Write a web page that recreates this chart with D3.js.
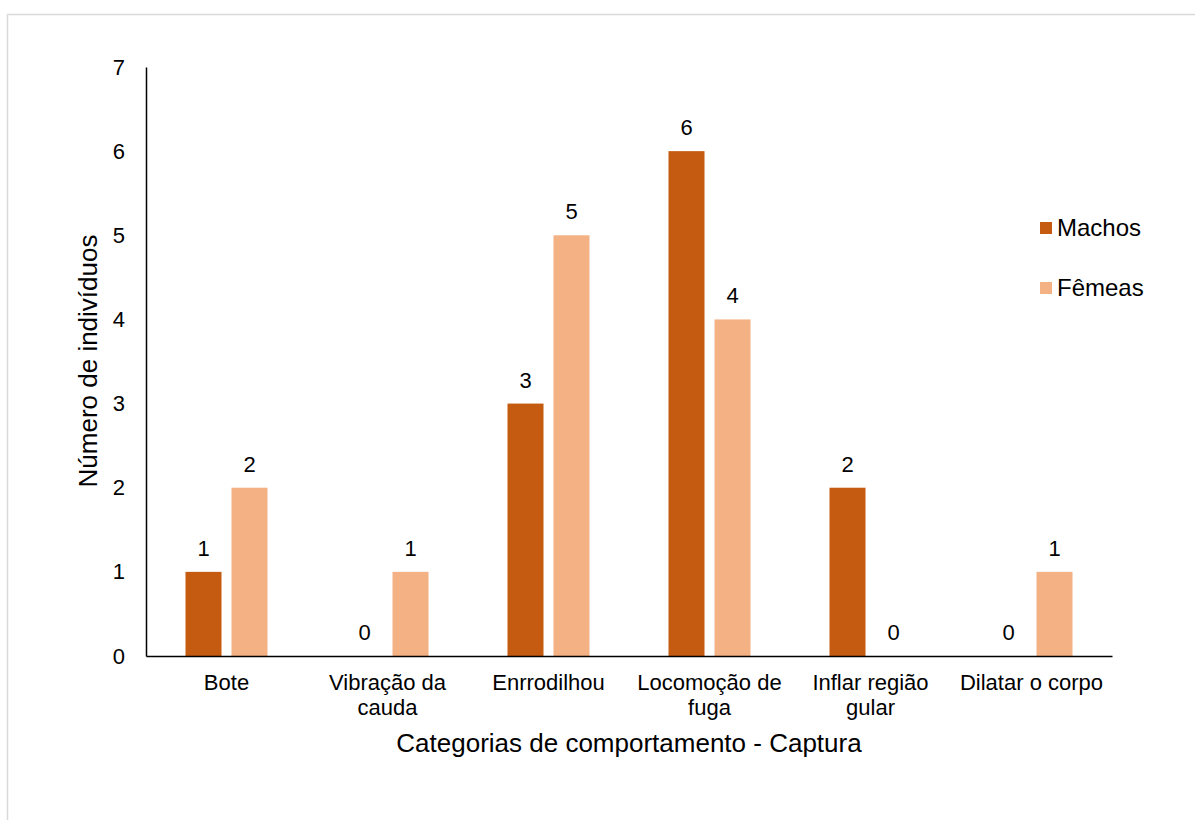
<!DOCTYPE html>
<html>
<head>
<meta charset="utf-8">
<script src="https://cdn.jsdelivr.net/npm/d3@7"></script>
<style>
  html, body { margin: 0; padding: 0; background: #fff; }
  svg { display: block; font-family: "Liberation Sans", Arial, sans-serif; }
</style>
</head>
<body>
<svg id="chart" width="1195" height="820"></svg>
<script>
// Behaviour categories recorded at capture (label lines)
const categories = [
  ["Bote"],
  ["Vibração da", "cauda"],
  ["Enrrodilhou"],
  ["Locomoção de", "fuga"],
  ["Inflar região", "gular"],
  ["Dilatar o corpo"]
];
const seriesNames = ["Machos", "Fêmeas"];
const machos = [1, 0, 3, 6, 2, 0];
const femeas = [2, 1, 5, 4, 0, 1];
const yTicks = [0, 1, 2, 3, 4, 5, 6, 7];
const colors = ["#C55A11", "#F4B183"];

const FONT = "Liberation Sans, Arial, sans-serif";
const svg = d3.select("#chart");

// outer frame
svg.append("rect")
  .attr("x", 7.5).attr("y", 14.5)
  .attr("width", 1200).attr("height", 820)
  .attr("fill", "none").attr("stroke", "#d9d9d9").attr("stroke-width", 1.5);

const plotLeft = 146, plotRight = 1112, plotTop = 67, plotBottom = 656;
const groupWidth = 82;

const x = d3.scaleBand().domain(d3.range(categories.length)).range([plotLeft, plotRight]);
const x1 = d3.scaleBand().domain([0, 1]).range([0, groupWidth]).paddingInner(10 / 46);
const y = d3.scaleLinear().domain([0, 7]).range([plotBottom, plotTop]);

const data = categories.map((c, i) => ({ i, values: [machos[i], femeas[i]] }));

const groups = svg.append("g").selectAll("g").data(data).join("g")
  .attr("transform", d => `translate(${x(d.i) + (x.bandwidth() - groupWidth) / 2},0)`);

groups.selectAll("rect").data(d => d.values.map((v, s) => ({ v, s }))).join("rect")
  .attr("x", d => x1(d.s))
  .attr("width", x1.bandwidth())
  .attr("y", d => y(d.v))
  .attr("height", d => y(0) - y(d.v))
  .attr("fill", d => colors[d.s]);

groups.selectAll("text").data(d => d.values.map((v, s) => ({ v, s }))).join("text")
  .attr("x", d => x1(d.s) + x1.bandwidth() / 2)
  .attr("y", d => y(d.v) - 16)
  .attr("text-anchor", "middle")
  .attr("font-size", 22)
  .attr("fill", "#000")
  .text(d => d.v);

// y axis
const yAxis = svg.append("g").attr("transform", `translate(${plotLeft},0)`)
  .call(d3.axisLeft(y).tickValues(yTicks).tickFormat(d3.format("d")).tickSize(0).tickPadding(21));
yAxis.attr("font-family", FONT).attr("font-size", 22);
yAxis.select(".domain").attr("stroke", "#000").attr("stroke-width", 1.5);
yAxis.selectAll("text").attr("fill", "#000");

// x axis
const xAxis = svg.append("g").attr("transform", `translate(0,${plotBottom})`)
  .call(d3.axisBottom(x).tickSize(0).tickFormat(""));
xAxis.select(".domain").attr("stroke", "#000").attr("stroke-width", 1.5);

const catLabels = svg.append("g").selectAll("text").data(categories).join("text")
  .attr("x", (d, i) => x(i) + x.bandwidth() / 2)
  .attr("y", 690)
  .attr("text-anchor", "middle")
  .attr("font-size", 22)
  .attr("fill", "#000");
catLabels.selectAll("tspan").data(d => d).join("tspan")
  .attr("x", function () { return this.parentNode.getAttribute("x"); })
  .attr("dy", (d, j) => j === 0 ? 0 : 25)
  .text(d => d);

// axis titles
svg.append("text")
  .attr("x", 629)
  .attr("y", 752)
  .attr("text-anchor", "middle")
  .attr("font-size", 26)
  .attr("fill", "#000")
  .text("Categorias de comportamento - Captura");

svg.append("text")
  .attr("transform", `translate(97,361) rotate(-90)`)
  .attr("text-anchor", "middle")
  .attr("font-size", 26)
  .attr("fill", "#000")
  .text("Número de indivíduos");

// legend
const legend = svg.append("g").selectAll("g").data(seriesNames).join("g")
  .attr("transform", (d, i) => `translate(1040,${222 + i * 60})`);
legend.append("rect").attr("width", 12).attr("height", 12).attr("fill", (d, i) => colors[i]);
legend.append("text").attr("x", 17).attr("y", 14)
  .attr("font-size", 24).attr("fill", "#000").text(d => d);
</script>
</body>
</html>
